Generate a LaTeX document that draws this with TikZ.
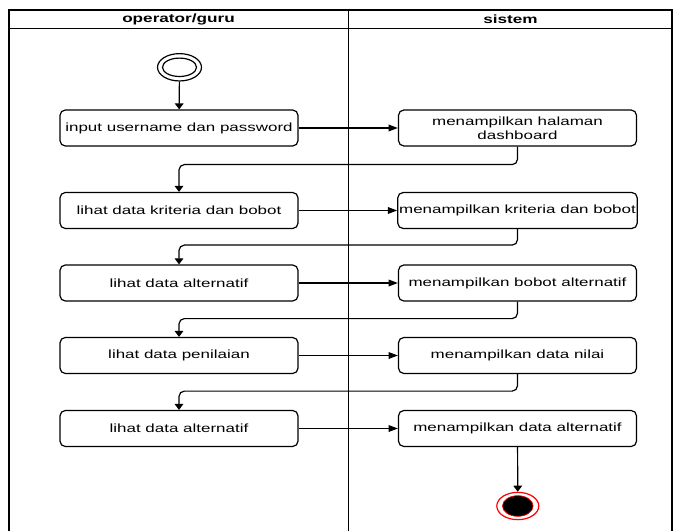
\documentclass[tikz,border=0pt]{standalone}
\usepackage{fontspec}
\setmainfont{Liberation Sans}
\newfontfamily\lbl[FakeStretch=1.43]{Liberation Sans}
\usetikzlibrary{arrows.meta,shapes.geometric}
\begin{document}
\begin{tikzpicture}[x=0.75pt,y=-0.75pt,
  frameline/.style={line width=1pt},
  actbox/.style={draw, line width=0.9pt, rounded corners=4pt, minimum width=178.5pt, minimum height=27pt,
     inner xsep=1pt, inner ysep=1pt, align=center, font=\lbl\fontsize{8.9pt}{10.5pt}\selectfont},
  lanehead/.style={font=\lbl\fontsize{9pt}{10pt}\selectfont\bfseries},
  harrow/.style={line width=0.9pt, -{Triangle[length=7pt,width=5pt]}},
  varrow/.style={line width=0.9pt, -{Triangle[length=4.5pt,width=6.5pt]}},
  flow/.style={line width=0.9pt, rounded corners=4pt, -{Triangle[length=4.5pt,width=6.5pt]}}]
\useasboundingbox (0,0) rectangle (675,531);
% swimlane frame
\draw[frameline] (9,531) -- (9,10) -- (672,10) -- (672,531);
\draw[frameline] (9,28.5) -- (672,28.5);
\draw[frameline] (348.5,10) -- (348.5,531);
\node[lanehead] (h1) at (178.5,19.5) {operator/guru};
\node[lanehead] (h2) at (510.5,19.5) {sistem};
% start node
\node[draw, ellipse, line width=0.9pt, minimum width=33pt, minimum height=20.5pt, inner sep=0pt] (start) at (179.5,67.3) {};
\node[draw, ellipse, line width=0.9pt, minimum width=25.5pt, minimum height=13.8pt, inner sep=0pt] (startin) at (179.5,67.3) {};
% activity boxes
\node[actbox] (b1) at (179,128) {input username dan password};
\node[actbox] (b2) at (517.5,128) {menampilkan halaman\\dashboard};
\node[actbox] (b3) at (179,210.5) {lihat data kriteria dan bobot};
\node[actbox] (b4) at (517.5,210.5) {menampilkan kriteria dan bobot};
\node[actbox] (b5) at (179,283) {lihat data alternatif};
\node[actbox] (b6) at (517.5,283) {menampilkan bobot alternatif};
\node[actbox] (b7) at (179,355.5) {lihat data penilaian};
\node[actbox] (b8) at (517.5,355.5) {menampilkan data nilai};
\node[actbox] (b9) at (179,428.5) {lihat data alternatif};
\node[actbox] (b10) at (517.5,428.5) {menampilkan data alternatif};
% end node
\node[draw=red, fill=white, ellipse, line width=0.9pt, minimum width=31.5pt, minimum height=20.5pt, inner sep=0pt] (end) at (517.8,506) {};
\node[draw=red, fill=black, ellipse, line width=0.5pt, minimum width=23pt, minimum height=15.5pt, inner sep=0pt] (endin) at (517.8,506) {};
% connectors
\draw[varrow] (start) -- (b1);
\draw[harrow] (b1) -- (b2);
\draw[flow] (b2.south) -- ++(0,18) -| (b3.north);
\draw[harrow] (b3) -- (b4);
\draw[flow] (b4.south) -- ++(0,16) -| (b5.north);
\draw[harrow] (b5) -- (b6);
\draw[flow] (b6.south) -- ++(0,17) -| (b7.north);
\draw[harrow] (b7) -- (b8);
\draw[flow] (b8.south) -- ++(0,17) -| (b9.north);
\draw[harrow] (b9) -- (b10);
\draw[varrow] (b10) -- (end);
\end{tikzpicture}
\end{document}
